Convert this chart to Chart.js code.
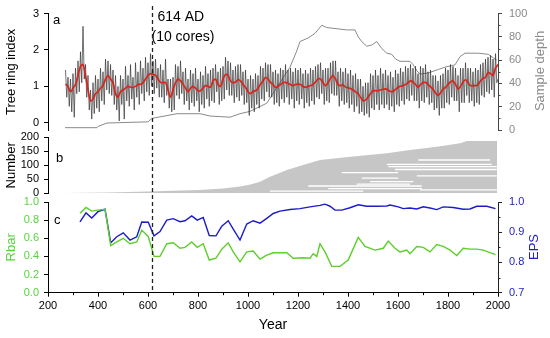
<!DOCTYPE html>
<html>
<head>
<meta charset="utf-8">
<script src="https://cdn.jsdelivr.net/npm/chart.js@4.4.1/dist/chart.umd.min.js"></script>
<style>
  body { margin: 0; background: #fff; }
  #wrap { position: relative; width: 550px; height: 338px; }
  #wrap canvas { position: absolute; left: 0; top: 0; }
</style>
</head>
<body>
<div id="wrap">
  <canvas id="pa" width="550" height="338"></canvas>
  <canvas id="pb" width="550" height="338"></canvas>
  <canvas id="pc" width="550" height="338"></canvas>
</div>
<script>
// panel a: tree ring index, 5-yr steps from 270 AD
var ringIdx = [
  1.45, 0.7, 1.25, 0.45, 1.2, 0.3, 1.35, 0.15, 1.5, 0.8,
  1.7, 0.85, 1.95, 1.1, 2.65, 1.2, 1.6, 0.7, 1.3, 0.35,
  0.9, 0.1, 1.1, 0.25, 1.3, 0.4, 1.2, 0.3, 1.5, 0.6,
  1.4, 0.5, 1.75, 0.9, 1.7, 0.8, 1.6, 0.75, 1.45, 0.5,
  1.3, 0.35, 1.0, 0.05, 1.3, 0.5, 1.2, 0.1, 1.55, 0.6,
  1.3, 0.45, 1.6, 0.65, 1.25, 0.35, 1.65, 0.7, 1.4, 0.5,
  1.7, 0.8, 1.5, 0.6, 1.8, 0.85, 1.65, 0.75, 1.9, 1.0,
  1.7, 0.8, 1.75, 0.95, 1.5, 0.7, 1.6, 0.7, 1.45, 0.55,
  1.75, 0.75, 1.2, 0.4, 1.2, 0.3, 1.25, 0.35, 1.6, 0.75,
  1.55, 0.65, 1.7, 0.8, 1.4, 0.5, 1.5, 0.6, 1.2, 0.35,
  1.45, 0.55, 1.35, 0.45, 1.5, 0.6, 1.2, 0.3, 1.4, 0.5,
  1.3, 0.4, 1.55, 0.65, 1.35, 0.45, 1.45, 0.6, 1.5, 0.55,
  1.6, 0.85, 1.4, 0.5, 1.5, 0.6, 1.55, 0.65, 1.8, 0.9,
  1.7, 0.75, 1.65, 0.75, 1.45, 0.55, 1.55, 0.7, 1.6, 0.6,
  1.6, 0.75, 1.4, 0.5, 1.45, 0.55, 1.2, 0.2, 1.3, 0.4,
  1.2, 0.3, 1.35, 0.5, 1.3, 0.4, 1.55, 0.65, 1.5, 0.6,
  1.65, 0.85, 1.6, 0.7, 1.6, 0.7, 1.4, 0.5, 1.45, 0.55,
  1.35, 0.45, 1.5, 0.65, 1.45, 0.55, 1.6, 0.7, 1.45, 0.5,
  1.5, 0.65, 1.4, 0.4, 1.5, 0.6, 1.45, 0.5, 1.5, 0.65,
  1.35, 0.4, 1.45, 0.55, 1.35, 0.45, 1.5, 0.6, 1.45, 0.5,
  1.55, 0.7, 1.6, 0.65, 1.65, 0.8, 1.45, 0.5, 1.5, 0.6,
  1.5, 0.55, 1.65, 0.8, 1.7, 0.75, 1.7, 0.75, 1.4, 0.45,
  1.5, 0.6, 1.4, 0.5, 1.5, 0.55, 1.35, 0.4, 1.45, 0.5,
  1.3, 0.3, 1.35, 0.45, 1.2, 0.25, 1.2, 0.3, 1.0, 0.2,
  1.1, 0.25, 1.1, 0.15, 1.35, 0.4, 1.3, 0.35, 1.45, 0.5,
  1.3, 0.35, 1.5, 0.5, 1.35, 0.4, 1.45, 0.5, 1.3, 0.35,
  1.4, 0.45, 1.25, 0.3, 1.45, 0.5, 1.35, 0.45, 1.5, 0.6,
  1.4, 0.5, 1.55, 0.65, 1.5, 0.6, 1.6, 0.75, 1.5, 0.6,
  1.55, 0.6, 1.35, 0.4, 1.55, 0.6, 1.5, 0.55, 1.6, 0.7,
  1.4, 0.5, 1.45, 0.55, 1.3, 0.35, 1.3, 0.4, 1.15, 0.2,
  1.3, 0.4, 1.35, 0.4, 1.5, 0.55, 1.45, 0.5, 1.6, 0.7,
  1.55, 0.6, 1.5, 0.6, 1.3, 0.3, 1.5, 0.55, 1.5, 0.55,
  1.65, 0.75, 1.5, 0.55, 1.5, 0.6, 1.4, 0.45, 1.5, 0.55,
  1.45, 0.5, 1.6, 0.75, 1.65, 0.7, 1.75, 0.85, 1.8, 0.8,
  1.85, 0.9, 1.75, 0.7, 1.9, 1.1, 1.2
];
var ringSmooth = [
  1.06, 1.0, 0.85, 0.95, 1.05, 1.3, 1.55, 1.6, 1.3, 0.9,
  0.6, 0.65, 0.8, 0.85, 0.95, 1.02, 1.2, 1.3, 1.2, 1.1,
  0.8, 0.7, 0.85, 0.9, 0.95, 1.0, 0.98, 0.97, 1.0, 1.05,
  1.06, 1.1, 1.2, 1.3, 1.35, 1.33, 1.3, 1.2, 1.11, 1.1,
  1.11, 0.9, 0.7, 0.9, 1.1, 1.2, 1.15, 1.06, 0.95, 0.85,
  0.95, 1.0, 0.95, 0.88, 0.88, 0.95, 1.02, 1.0, 0.97, 1.15,
  1.2, 1.05, 1.0, 1.2, 1.33, 1.3, 1.15, 1.1, 1.12, 1.18,
  1.15, 1.05, 0.97, 0.85, 0.8, 0.86, 0.88, 0.95, 1.06, 1.15,
  1.24, 1.2, 1.11, 1.05, 0.97, 1.0, 1.05, 1.1, 1.11, 1.08,
  1.05, 1.02, 1.05, 1.06, 1.05, 1.0, 0.97, 1.0, 1.02, 1.05,
  1.12, 1.2, 1.2, 1.1, 1.02, 1.1, 1.22, 1.3, 1.2, 1.05,
  1.02, 1.04, 0.98, 0.96, 0.94, 0.9, 0.85, 0.8, 0.7, 0.61,
  0.62, 0.7, 0.8, 0.88, 0.88, 0.88, 0.9, 0.92, 0.93, 0.9,
  0.86, 0.86, 0.92, 0.97, 1.0, 1.02, 1.05, 1.1, 1.15, 1.12,
  1.05, 0.98, 1.05, 1.1, 1.11, 1.05, 0.99, 0.92, 0.82, 0.75,
  0.82, 0.92, 0.97, 1.05, 1.12, 1.15, 1.05, 0.93, 1.0, 1.12,
  1.18, 1.1, 1.02, 1.02, 1.02, 1.04, 1.15, 1.22, 1.25, 1.38,
  1.35, 1.3, 1.5, 1.6
];
var ringYears = ringIdx.map(function (v, i) { return 270 + i * 5; });
var smoothYears = ringSmooth.map(function (v, i) { return 270 + i * 10; });

var depthYears = [268, 396, 400, 436, 600, 616, 716, 808, 848, 928, 968, 1008, 1075, 1141, 1168,
  1195, 1208, 1240, 1268, 1295, 1315, 1395, 1428, 1441, 1455, 1475, 1495, 1515, 1535, 1555,
  1575, 1590, 1608, 1648, 1661, 1675, 1688, 1721, 1761, 1788, 1828, 1848, 1868, 1921, 1961, 1981, 1995];
var depth = [2, 2, 3, 6, 7, 10, 14, 14, 12, 11, 14, 16, 23, 45, 54,
  68, 76, 79, 83, 90, 88, 86, 86, 80, 76, 72, 73, 76, 70, 66,
  65, 61, 59, 59, 56, 51, 48, 49, 52, 54, 56, 63, 66, 66, 65, 62, 60];

// panel b: number of series
var coreYears = [268, 440, 600, 700, 808, 900, 968, 1010, 1048, 1088, 1156, 1220, 1288, 1420, 1556, 1648, 1756, 1848, 1876, 1996];
var coreCount = [1, 3, 6, 9, 12, 17, 24, 31, 41, 59, 83, 101, 119, 131, 143, 155, 166, 179, 187, 187];
var gapCount = [119, 103, 95, 85, 74, 62, 54, 42, 33, 26, 17, 12, 8];
var gapStart = [1681, 1555, 1561, 1588, 1375, 1675, 1455, 1488, 1435, 1241, 1321, 1688, 1088];
var gapEnd = [1968, 1975, 1995, 1995, 1601, 1995, 1601, 1661, 1648, 1695, 1695, 1995, 1461];

// panel c: Rbar and EPS
var rbarYears = [328, 352, 375, 400, 428, 451, 475, 501, 528, 555, 575, 601, 624, 648, 675,
  701, 728, 748, 775, 797, 821, 845, 872, 895, 921, 941, 968, 995, 1021, 1048,
  1075, 1101, 1128, 1155, 1181, 1221, 1248, 1261, 1275, 1288, 1308, 1335, 1368, 1401, 1415,
  1441, 1468, 1508, 1541, 1561, 1588, 1608, 1635, 1648, 1675, 1701, 1728, 1755, 1781, 1808,
  1835, 1861, 1888, 1915, 1941, 1990];
var rbar = [0.875, 0.94, 0.90, 0.91, 0.92, 0.52, 0.56, 0.60, 0.54, 0.56, 0.69, 0.62, 0.40, 0.40, 0.54,
  0.55, 0.49, 0.50, 0.56, 0.50, 0.54, 0.36, 0.38, 0.48, 0.55, 0.45, 0.34, 0.45, 0.46, 0.37,
  0.415, 0.44, 0.44, 0.44, 0.38, 0.385, 0.38, 0.43, 0.40, 0.54, 0.45, 0.29, 0.29, 0.36, 0.45,
  0.61, 0.51, 0.47, 0.49, 0.57, 0.49, 0.45, 0.47, 0.43, 0.51, 0.50, 0.45, 0.53, 0.51, 0.47,
  0.41, 0.49, 0.48, 0.48, 0.47, 0.42];
var epsYears = [328, 352, 375, 400, 428, 451, 475, 501, 528, 555, 575, 601, 624, 648, 675,
  701, 728, 748, 775, 797, 821, 845, 872, 895, 921, 941, 968, 995, 1021, 1048,
  1075, 1101, 1128, 1168, 1208, 1248, 1288, 1308, 1328, 1348, 1375, 1408, 1441, 1475, 1515,
  1555, 1568, 1601, 1621, 1648, 1675, 1701, 1728, 1755, 1781, 1821, 1861, 1888, 1915, 1955, 1990];
var eps = [0.934, 0.964, 0.947, 0.968, 0.976, 0.865, 0.885, 0.898, 0.874, 0.885, 0.934, 0.933, 0.888, 0.902, 0.94,
  0.945, 0.935, 0.938, 0.954, 0.94, 0.949, 0.889, 0.888, 0.92, 0.938, 0.91, 0.874, 0.927, 0.938, 0.93,
  0.946, 0.962, 0.97, 0.975, 0.978, 0.984, 0.989, 0.993, 0.986, 0.973, 0.973, 0.981, 0.991, 0.986, 0.986,
  0.987, 0.990, 0.984, 0.978, 0.98, 0.977, 0.984, 0.98, 0.975, 0.984, 0.982, 0.976, 0.977, 0.986, 0.986, 0.978];

var ringTicks = [0, 1, 2, 3];
var markYear = 614;

Chart.defaults.font.family = "'Liberation Sans', Arial, sans-serif";
Chart.defaults.font.size = 11;
Chart.defaults.color = "#000";

function pts(xs, ys) {
  return xs.map(function (x, i) { return { x: x, y: ys[i] }; });
}

// minor ticks, rotated right-hand titles, panel letters, marker line
var decor = {
  id: "decor",
  afterDraw: function (chart, args, opts) {
    var ctx = chart.ctx;
    ctx.save();
    (opts.minor || []).forEach(function (m) {
      var s = chart.scales[m.id];
      var vals = s.ticks.map(function (t) { return t.value; });
      ctx.strokeStyle = m.color;
      ctx.lineWidth = 1;
      ctx.beginPath();
      for (var i = 0; i < vals.length - 1; i++) {
        var v = (vals[i] + vals[i + 1]) / 2;
        var p = Math.round(s.getPixelForValue(v)) + 0.5;
        if (m.id === "x") {
          ctx.moveTo(p, chart.chartArea.bottom);
          ctx.lineTo(p, chart.chartArea.bottom + 2.5);
        } else if (s.position === "left") {
          ctx.moveTo(chart.chartArea.left, p);
          ctx.lineTo(chart.chartArea.left - 2.5, p);
        } else {
          ctx.moveTo(chart.chartArea.right, p);
          ctx.lineTo(chart.chartArea.right + 2.5, p);
        }
      }
      ctx.stroke();
    });
    (opts.titles || []).forEach(function (t) {
      ctx.save();
      ctx.translate(t.x, t.y);
      ctx.rotate(-Math.PI / 2);
      ctx.font = "13px 'Liberation Sans', Arial, sans-serif";
      ctx.fillStyle = t.color;
      ctx.textAlign = "center";
      ctx.textBaseline = "middle";
      ctx.fillText(t.text, 0, 0);
      ctx.restore();
    });
    (opts.labels || []).forEach(function (t) {
      ctx.font = (t.size || 13) + "px 'Liberation Sans', Arial, sans-serif";
      ctx.fillStyle = "#000";
      ctx.textAlign = "left";
      ctx.textBaseline = "middle";
      var x = t.year ? chart.scales.x.getPixelForValue(t.year) + t.dx : chart.chartArea.left + t.dx;
      ctx.fillText(t.text, x, t.y);
    });
    if (opts.marker) {
      var xm = Math.round(chart.scales.x.getPixelForValue(markYear)) + 0.5;
      ctx.strokeStyle = "#222";
      ctx.lineWidth = 1.3;
      ctx.setLineDash([4, 3]);
      ctx.beginPath();
      ctx.moveTo(xm, 6);
      ctx.lineTo(xm, chart.chartArea.bottom);
      ctx.stroke();
    }
    ctx.restore();
  }
};

function xAxis(show) {
  return {
    type: "linear", min: 200, max: 2000, display: show,
    afterFit: function (s) { s.height = 45.3; },
    ticks: { stepSize: 200, color: "#000", padding: 3, maxRotation: 0, autoSkip: false, font: { size: 11 },
      callback: function (v) { return String(v); } },
    grid: { drawOnChartArea: false, tickLength: 4, color: "#000" },
    border: { color: "#000" },
    title: { display: true, text: "Year", color: "#000", font: { size: 14 }, padding: { top: 2, bottom: 4 } }
  };
}

function leftAxis(o) {
  return {
    position: "left", min: o.min, max: o.max,
    afterFit: function (s) { s.width = 48; },
    afterBuildTicks: o.values ? function (s) { s.ticks = o.values.map(function (v) { return { value: v }; }); } : undefined,
    ticks: { stepSize: o.step, color: o.color, padding: 5, autoSkip: false, font: { size: 11 },
      callback: function (v) { return o.dec ? Number(v).toFixed(o.dec) : String(v); } },
    grid: { drawOnChartArea: false, tickLength: 4, color: "#000" },
    border: { color: "#000" },
    title: { display: true, text: o.title, color: o.color, font: { size: 13 }, padding: { top: 4, bottom: 0 } }
  };
}

function rightAxis(o) {
  return {
    position: "right", min: o.min, max: o.max,
    afterFit: function (s) { s.width = 52; },
    ticks: { stepSize: o.step, color: o.color, padding: 7, autoSkip: false, font: { size: 11 },
      callback: function (v) { return o.dec ? Number(v).toFixed(o.dec) : String(v); } },
    grid: { drawOnChartArea: false, tickLength: 4, color: o.line },
    border: { color: o.line }
  };
}

var base = {
  responsive: false,
  animation: false,
  events: [],
  elements: { point: { radius: 0 }, line: { tension: 0 } }
};

// Chart.js paints the last dataset first, so the top layer goes first in the list
new Chart(document.getElementById("pa"), {
  type: "line",
  data: {
    datasets: [
      { data: pts(smoothYears, ringSmooth), yAxisID: "y", borderColor: "#dc2118", borderWidth: 1.6, tension: 0.3 },
      { data: pts(ringYears, ringIdx), yAxisID: "y", borderColor: "#333333", borderWidth: 0.7 },
      { data: pts(depthYears, depth), yAxisID: "yr", borderColor: "#8a8a8a", borderWidth: 1 }
    ]
  },
  options: Object.assign({}, base, {
    layout: { padding: { top: 12, bottom: 208, left: 0, right: 0 } },
    plugins: {
      legend: { display: false }, tooltip: { enabled: false },
      decor: {
        minor: [{ id: "yr", color: "#444" }],
        titles: [{ text: "Sample depth", x: 540, y: 71, color: "#8a8a8a" }],
        labels: [
          { text: "a", dx: 5, y: 20 },
          { text: "614 AD", year: markYear, dx: 6, y: 17, size: 14 },
          { text: "(10 cores)", year: markYear, dx: 0, y: 37, size: 14 }
        ]
      }
    },
    scales: {
      x: { type: "linear", min: 200, max: 2000, display: false },
      y: leftAxis({ min: -0.2, max: 3, values: ringTicks, color: "#000", title: "Tree ring index" }),
      yr: rightAxis({ min: 0, max: 100, step: 20, color: "#8a8a8a", line: "#444" })
    }
  }),
  plugins: [decor]
});

var gapSets = gapCount.map(function (c, i) {
  return { data: [{ x: gapStart[i], y: c }, { x: gapEnd[i], y: c }], borderColor: "#ffffff", borderWidth: 1.3 };
});

new Chart(document.getElementById("pb"), {
  type: "line",
  data: {
    datasets: gapSets.concat([
      { data: pts(coreYears, coreCount), borderColor: "#c6c6c6", borderWidth: 0, backgroundColor: "#c6c6c6", fill: "origin" }
    ])
  },
  options: Object.assign({}, base, {
    layout: { padding: { top: 137.3, bottom: 144.7, left: 0, right: 52 } },
    plugins: {
      legend: { display: false }, tooltip: { enabled: false },
      decor: { labels: [{ text: "b", dx: 8, y: 158 }] }
    },
    scales: {
      x: { type: "linear", min: 200, max: 2000, display: false },
      y: leftAxis({ min: 0, max: 200, step: 50, color: "#000", title: "Number" })
    }
  }),
  plugins: [decor]
});

new Chart(document.getElementById("pc"), {
  type: "line",
  data: {
    datasets: [
      { data: pts(rbarYears, rbar), yAxisID: "y", borderColor: "#5ccf2a", borderWidth: 1.4 },
      { data: pts(epsYears, eps), yAxisID: "yr", borderColor: "#1c1cc8", borderWidth: 1.4 }
    ]
  },
  options: Object.assign({}, base, {
    layout: { padding: { top: 202, bottom: 0, left: 0, right: 0 } },
    plugins: {
      legend: { display: false }, tooltip: { enabled: false },
      decor: {
        marker: true,
        minor: [{ id: "x", color: "#000" }, { id: "yr", color: "#222" }],
        titles: [{ text: "EPS", x: 534, y: 247, color: "#1c1cc8" }],
        labels: [{ text: "c", dx: 6, y: 220 }]
      }
    },
    scales: {
      x: xAxis(true),
      y: leftAxis({ min: 0, max: 1, step: 0.2, dec: 1, color: "#55d63a", title: "Rbar" }),
      yr: rightAxis({ min: 0.7, max: 1.0, step: 0.1, dec: 1, color: "#1c1cc8", line: "#222" })
    }
  }),
  plugins: [decor]
});
</script>
</body>
</html>
